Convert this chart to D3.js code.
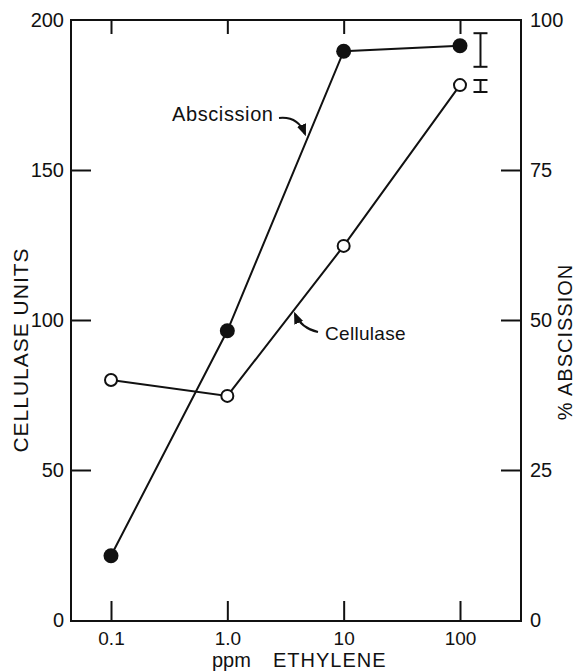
<!DOCTYPE html>
<html>
<head>
<meta charset="utf-8">
<script src="https://cdn.jsdelivr.net/npm/d3@7"></script>
<style>
  body { margin: 0; background: #fff; }
  svg text { font-family: "Liberation Sans", Arial, sans-serif; fill: #111; }
</style>
</head>
<body>
<div id="chart"></div>
<script>
// data
const ppm = [0.1, 1, 10, 100]
const cellulase = [80, 74.7, 124.7, 178.3]      // cellulase units (left axis)
const abscission = [10.7, 48.2, 94.8, 95.7]     // % abscission (right axis)
const xTicks = [0.1, 1, 10, 100]
const xTickLabels = ["0.1", "1.0", "10", "100"]
const leftTicks = [0, 50, 100, 150, 200]
const rightTicks = [0, 25, 50, 75, 100]
// error bars: [x position (ppm), low, high]
const errAbs = [150, 92.2, 97.8]    // % abscission
const errCell = [150, 176, 180]     // cellulase units

const width = 575, height = 671
const frame = {left: 71, right: 521, top: 20, bottom: 621}

const svg = d3.select("#chart")
    .append("svg")
    .attr("width", width)
    .attr("height", height)

const x = d3.scaleLog().domain([0.1, 100]).range([111, 460])
const yL = d3.scaleLinear().domain([0, 200]).range([620, 20])
const yR = d3.scaleLinear().domain([0, 100]).range([620, 20])

// frame
svg.append("rect")
    .attr("x", frame.left).attr("y", frame.top)
    .attr("width", frame.right - frame.left)
    .attr("height", frame.bottom - frame.top)
    .attr("fill", "none")
    .attr("stroke", "#111")
    .attr("stroke-width", 2)

// left axis, ticks pointing in
const gL = svg.append("g")
    .attr("transform", `translate(${frame.left},0)`)
    .call(d3.axisLeft(yL).tickValues(leftTicks).tickSize(-20).tickPadding(7))
gL.select(".domain").remove()
gL.selectAll("line").attr("stroke", "#111").attr("stroke-width", 2)
    .attr("display", d => (d === 0 || d === 200) ? "none" : null)
gL.selectAll("text").style("font-size", "20px")

// right axis
const gR = svg.append("g")
    .attr("transform", `translate(${frame.right},0)`)
    .call(d3.axisRight(yR).tickValues(rightTicks).tickSize(-20).tickPadding(9))
gR.select(".domain").remove()
gR.selectAll("line").attr("stroke", "#111").attr("stroke-width", 2)
    .attr("display", d => (d === 0 || d === 100) ? "none" : null)
gR.selectAll("text").style("font-size", "20px")

// bottom axis
const gB = svg.append("g")
    .attr("transform", `translate(0,${frame.bottom})`)
    .call(d3.axisBottom(x).tickValues(xTicks).tickFormat((d, i) => xTickLabels[i]).tickSize(-20).tickPadding(10))
gB.select(".domain").remove()
gB.selectAll("line").attr("stroke", "#111").attr("stroke-width", 2)
gB.selectAll("text").style("font-size", "19px").attr("dy", "0.75em")

// top ticks
const gT = svg.append("g")
    .attr("transform", `translate(0,${frame.top})`)
    .call(d3.axisTop(x).tickValues(xTicks).tickFormat("").tickSize(-14))
gT.select(".domain").remove()
gT.selectAll("line").attr("stroke", "#111").attr("stroke-width", 2)

// axis titles
svg.append("text")
    .attr("transform", "translate(28,350) rotate(-90)")
    .attr("text-anchor", "middle")
    .style("font-size", "21px")
    .style("letter-spacing", "1px")
    .text("CELLULASE  UNITS")

svg.append("text")
    .attr("transform", "translate(572,342) rotate(-90)")
    .attr("text-anchor", "middle")
    .style("font-size", "20px")
    .style("letter-spacing", "1px")
    .text("%  ABSCISSION")

svg.append("text")
    .attr("x", 212).attr("y", 667)
    .style("font-size", "20px")
    .text("ppm")
svg.append("text")
    .attr("x", 273).attr("y", 667)
    .style("font-size", "20px")
    .style("letter-spacing", "1px")
    .text("ETHYLENE")

// lines
const lineL = d3.line().x((d, i) => x(ppm[i])).y(d => yL(d))
const lineR = d3.line().x((d, i) => x(ppm[i])).y(d => yR(d))

svg.append("path").datum(cellulase)
    .attr("d", lineL).attr("fill", "none").attr("stroke", "#111").attr("stroke-width", 2)
svg.append("path").datum(abscission)
    .attr("d", lineR).attr("fill", "none").attr("stroke", "#111").attr("stroke-width", 2)

svg.selectAll("circle.cell").data(cellulase).enter()
    .append("circle").classed("cell", true)
    .attr("cx", (d, i) => x(ppm[i])).attr("cy", d => yL(d))
    .attr("r", 6).attr("fill", "#fff").attr("stroke", "#111").attr("stroke-width", 2)

svg.selectAll("circle.abs").data(abscission).enter()
    .append("circle").classed("abs", true)
    .attr("cx", (d, i) => x(ppm[i])).attr("cy", d => yR(d))
    .attr("r", 7.5).attr("fill", "#111")

// error bars
function errBar(e, y){
    const g = svg.append("g").attr("stroke", "#111").attr("stroke-width", 2)
    const cx = x(e[0])
    g.append("line").attr("x1", cx).attr("x2", cx).attr("y1", y(e[1])).attr("y2", y(e[2]))
    g.append("line").attr("x1", cx - 7).attr("x2", cx + 7).attr("y1", y(e[1])).attr("y2", y(e[1]))
    g.append("line").attr("x1", cx - 7).attr("x2", cx + 7).attr("y1", y(e[2])).attr("y2", y(e[2]))
}
errBar(errAbs, yR)
errBar(errCell, yL)

// annotations
svg.append("text")
    .attr("x", 172).attr("y", 121)
    .style("font-size", "20px")
    .style("letter-spacing", "0.6px")
    .text("Abscission")

svg.append("text")
    .attr("x", 325).attr("y", 340)
    .style("font-size", "19px")
    .style("letter-spacing", "0.3px")
    .text("Cellulase")

svg.append("defs").append("marker")
    .attr("id", "arr")
    .attr("viewBox", "0 0 10 10")
    .attr("refX", 8).attr("refY", 5)
    .attr("markerWidth", 6).attr("markerHeight", 6)
    .attr("orient", "auto")
    .append("path").attr("d", "M0,1 L10,5 L0,9 Z").attr("fill", "#111")

svg.append("path")
    .attr("d", "M279,118 Q298,116 305,134")
    .attr("fill", "none").attr("stroke", "#111").attr("stroke-width", 2)
    .attr("marker-end", "url(#arr)")

svg.append("path")
    .attr("d", "M318,332 Q301,328 295,314")
    .attr("fill", "none").attr("stroke", "#111").attr("stroke-width", 2)
    .attr("marker-end", "url(#arr)")
</script>
</body>
</html>
